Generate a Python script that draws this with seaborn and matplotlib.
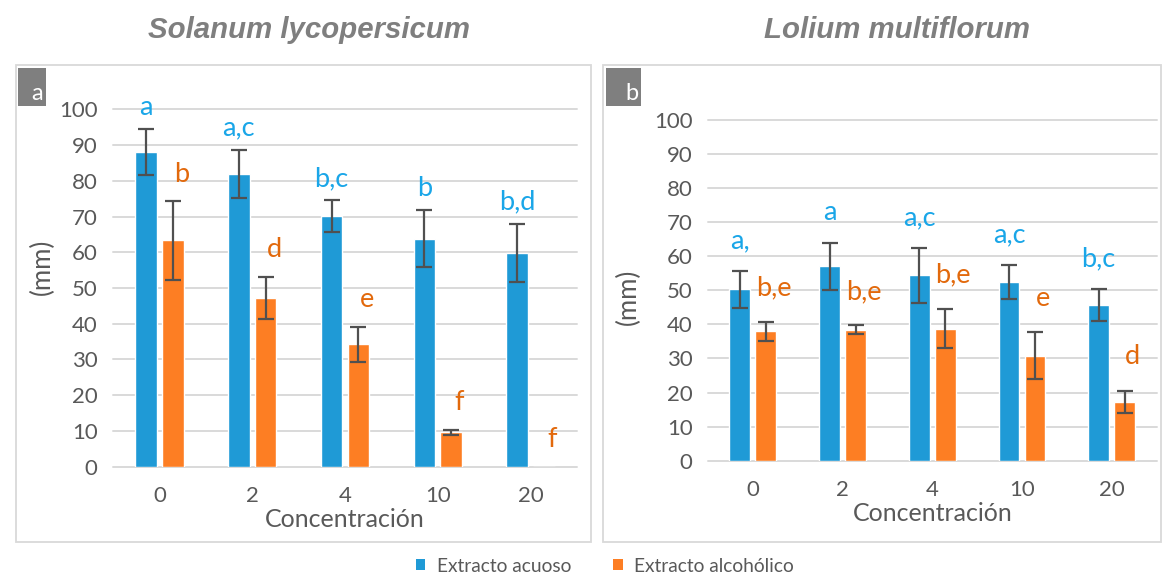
import matplotlib
matplotlib.use("Agg")
import matplotlib.pyplot as plt
from matplotlib.patches import Rectangle, Patch
from matplotlib.container import BarContainer
import numpy as np
import pandas as pd
import seaborn as sns

# Concentration levels (x categories)
concentraciones = ["0", "2", "4", "10", "20"]
series = ["Extracto acuoso", "Extracto alcohólico"]

# Solanum lycopersicum: mean length (mm) and standard deviation
sol_acuoso = [88.1, 81.9, 70.1, 63.8, 59.8]
sol_acuoso_sd = [6.5, 6.8, 4.4, 8.0, 8.2]
sol_alcoholico = [63.3, 47.2, 34.2, 9.6, 0.0]
sol_alcoholico_sd = [11.0, 6.0, 5.0, 0.8, 0.0]
sol_letras_acuoso = ["a", "a,c", "b,c", "b", "b,d"]
sol_letras_alcoholico = ["b", "d", "e", "f", "f"]

# Lolium multiflorum: mean length (mm) and standard deviation
lol_acuoso = [50.3, 57.1, 54.4, 52.5, 45.8]
lol_acuoso_sd = [5.5, 6.9, 8.1, 5.0, 4.7]
lol_alcoholico = [38.0, 38.4, 38.8, 30.8, 17.2]
lol_alcoholico_sd = [2.8, 1.3, 5.8, 6.9, 3.3]
lol_letras_acuoso = ["a,", "a", "a,c", "a,c", "b,c"]
lol_letras_alcoholico = ["b,e", "b,e", "b,e", "e", "d"]

y_ticks = [0, 10, 20, 30, 40, 50, 60, 70, 80, 90, 100]

BLUE = "#1F9AD6"
ORANGE = "#FD7E23"
BLUE_TXT = "#1AA6E8"
ORANGE_TXT = "#E2690C"
GRID = "#D9D9D9"
TICK = "#595959"
ERR = "#505050"

sns.set_style("white")
plt.rcParams["font.family"] = ["Lato", "DejaVu Sans"]

W, H = 1163, 577
fig = plt.figure(figsize=(W / 100, H / 100), dpi=100)


def px_axes(x0, x1, y_top, y_bot):
    return [x0 / W, 1 - y_bot / H, (x1 - x0) / W, (y_bot - y_top) / H]


def panel(ax, acuoso, acuoso_sd, alcoholico, alcoholico_sd,
          let_ac, let_al, pad_ac, pad_al, ylab_xy):
    df = pd.DataFrame({
        "Concentración": concentraciones * 2,
        "valor": acuoso + alcoholico,
        "serie": [series[0]] * len(concentraciones) + [series[1]] * len(concentraciones),
    })
    sns.barplot(data=df, x="Concentración", y="valor", hue="serie",
                order=concentraciones, hue_order=series,
                palette=[BLUE, ORANGE], width=0.58, gap=0.2,
                errorbar=None, saturation=1, legend=False, ax=ax)

    means = [acuoso, alcoholico]
    sds = [acuoso_sd, alcoholico_sd]
    letters = [let_ac, let_al]
    colors = [BLUE_TXT, ORANGE_TXT]
    pads = [pad_ac, pad_al]
    shifts = [0.0, 0.09]
    bar_groups = [c for c in ax.containers if isinstance(c, BarContainer)]
    for k, cont in enumerate(bar_groups):
        xs = np.array([p.get_x() + p.get_width() / 2 for p in cont.patches])
        m = np.array(means[k])
        s = np.array(sds[k])
        show = ~((m == 0) & (s == 0))
        ax.errorbar(xs[show], m[show], yerr=s[show], fmt="none", ecolor=ERR,
                    elinewidth=1.6, capsize=5.5, capthick=1.6, zorder=3)
        for xi, mi, si, lab in zip(xs, m, s, letters[k]):
            ax.text(xi + shifts[k], mi + si + pads[k], lab, ha="center", va="center",
                    color=colors[k], fontsize=19.5, clip_on=False)

    ax.set_xlim(-0.5, 4.5)
    ax.set_ylim(0, 100)
    ax.set_yticks(y_ticks)
    ax.yaxis.grid(True, color=GRID, lw=1.4)
    ax.xaxis.grid(False)
    for gl in ax.get_ygridlines():
        gl.set_clip_on(False)
    ax.set_axisbelow(True)
    for sp in ax.spines.values():
        sp.set_visible(False)
    ax.tick_params(axis="both", length=0, labelsize=16, labelcolor=TICK)
    ax.tick_params(axis="y", pad=11)
    ax.tick_params(axis="x", pad=14)
    ax.set_xlabel("Concentración", fontsize=18, color=TICK, labelpad=1)
    ax.set_ylabel("(mm)", fontsize=18.5, color=TICK)
    ax.yaxis.set_label_coords(*ylab_xy)


ax_a = fig.add_axes(px_axes(113, 577, 109.3, 466.7))
panel(ax_a, sol_acuoso, sol_acuoso_sd, sol_alcoholico, sol_alcoholico_sd,
      sol_letras_acuoso, sol_letras_alcoholico, 6.0, 7.5, (-0.125, 0.56))

ax_b = fig.add_axes(px_axes(708, 1156.5, 120.0, 460.7))
panel(ax_b, lol_acuoso, lol_acuoso_sd, lol_alcoholico, lol_alcoholico_sd,
      lol_letras_acuoso, lol_letras_alcoholico, 8.8, 10.0, (-0.15, 0.48))

# Panel frames
for x0, x1 in [(16, 591), (603, 1161)]:
    fig.patches.append(Rectangle((x0 / W, 1 - 542 / H), (x1 - x0) / W, (542 - 65) / H,
                                 transform=fig.transFigure, fill=False,
                                 edgecolor=GRID, lw=1.3, zorder=0))

# Panel tags
for x0, x1, tag in [(18, 46, "a"), (606, 641, "b")]:
    fig.patches.append(Rectangle((x0 / W, 1 - 106 / H), (x1 - x0) / W, 38 / H,
                                 transform=fig.transFigure, facecolor="#7F7F7F",
                                 edgecolor="none", zorder=2))
    fig.text((x1 - 9) / W, 1 - 93 / H, tag, ha="center", va="center",
             color="white", fontsize=17, zorder=3)

# Species titles
title_kw = dict(ha="center", va="center", color="#7F7F7F", fontsize=21.2,
                fontweight="bold", fontstyle="italic", family="Liberation Sans")
fig.text(309 / W, 1 - 30 / H, "Solanum lycopersicum", **title_kw)
fig.text(897 / W, 1 - 30 / H, "Lolium multiflorum", **title_kw)

handles = [Patch(facecolor=BLUE, edgecolor="none", label=series[0]),
           Patch(facecolor=ORANGE, edgecolor="none", label=series[1])]
fig.legend(handles=handles, loc="center", bbox_to_anchor=(605 / W, 1 - 566 / H),
           ncol=2, frameon=False, fontsize=13.8, labelcolor=TICK,
           handlelength=0.5, handleheight=0.5, handletextpad=0.6,
           columnspacing=2.2, borderpad=0)

fig.savefig("out.png", dpi=100)
